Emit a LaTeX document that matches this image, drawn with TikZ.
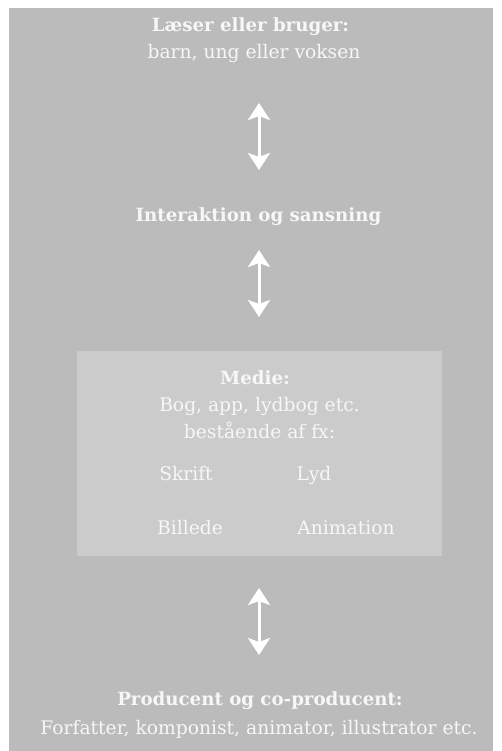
\documentclass[tikz,border=0pt]{standalone}
\usepackage{fontspec}
\setmainfont{DejaVu Serif}
\usetikzlibrary{arrows.meta}
\definecolor{outergray}{HTML}{BBBBBB}
\definecolor{innergray}{HTML}{CBCBCB}
\definecolor{txt}{HTML}{F7F7F7}
\begin{document}
\begin{tikzpicture}[x=1pt,y=-1pt,
  lbl/.style={text=txt,font=\fontsize{18.7}{27}\selectfont,inner sep=0pt,anchor=base},
  ttl/.style={lbl,font=\fontsize{18.2}{27}\selectfont\bfseries},
  dblarrow/.style={draw=white,line width=3pt,{Stealth[length=17pt,width=22pt,inset=4pt]}-{Stealth[length=17pt,width=22pt,inset=4pt]}}]
\useasboundingbox (0,0) rectangle (501,751);
\fill[white] (0,0) rectangle (501,751);
\fill[outergray] (9,8) rectangle (493,751);
\fill[innergray] (77,351) rectangle (442,556);
% top
\node[ttl] (reader) at (250.5,32) {Læser eller bruger:};
\node[lbl] (readersub) at (254,59) {barn, ung eller voksen};
\node[ttl] (inter) at (258.5,222) {Interaktion og sansning};
\node[ttl] (medie) at (255,384) {Medie:};
\node[lbl] (bog) at (259.5,411) {Bog, app, lydbog etc.};
\node[lbl] (best) at (259.5,438) {bestående af fx:};
\node[lbl] (skrift) at (186,480) {Skrift};
\node[lbl] (lyd) at (314,480) {Lyd};
\node[lbl] (billede) at (190,534) {Billede};
\node[lbl] (anim) at (346,534) {Animation};
\node[ttl] (prod) at (260,705) {Producent og co-producent:};
\node[lbl] (prodsub) at (259,734) {Forfatter, komponist, animator, illustrator etc.};
% arrows
\coordinate (a1t) at (259,103);
\coordinate (a1b) at (259,170);
\coordinate (a2t) at (259,250);
\coordinate (a2b) at (259,317);
\coordinate (a3t) at (259,588);
\coordinate (a3b) at (259,655);
\draw[dblarrow] (a1t) -- (a1b);
\draw[dblarrow] (a2t) -- (a2b);
\draw[dblarrow] (a3t) -- (a3b);
\end{tikzpicture}
\end{document}
